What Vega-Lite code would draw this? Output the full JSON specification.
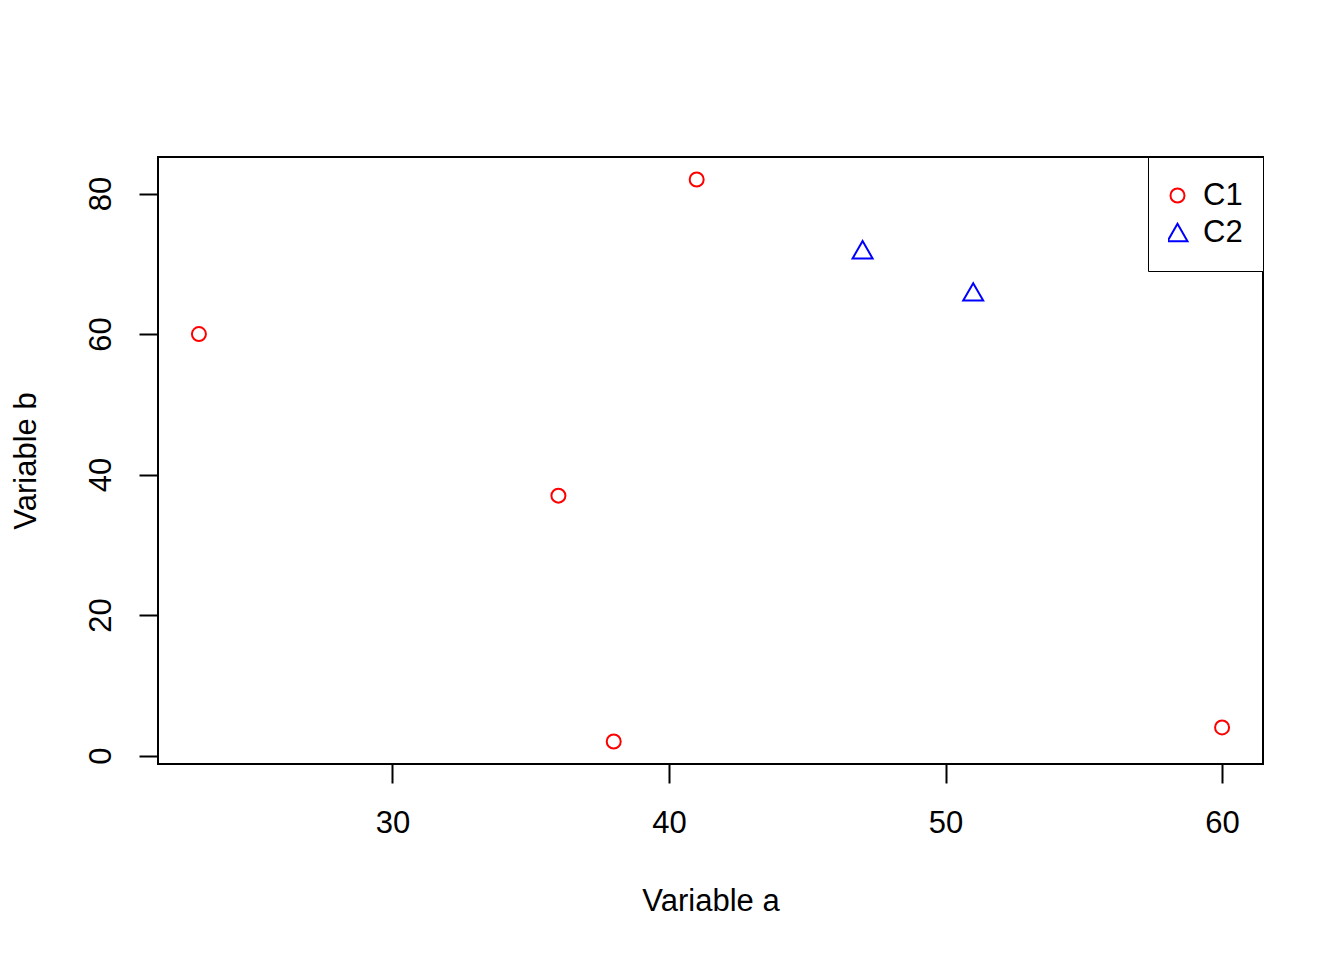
{
  "$schema": "https://vega.github.io/schema/vega-lite/v6.json",
  "width": 1105,
  "height": 607,
  "autosize": {"type": "none"},
  "padding": {"left": 158, "top": 157, "right": 81, "bottom": 196},
  "background": "white",
  "config": {
    "font": "Liberation Sans",
    "view": {"stroke": "black", "strokeWidth": 2},
    "axis": {
      "grid": false,
      "domain": false,
      "tickColor": "black",
      "tickWidth": 2,
      "tickSize": 19,
      "labelFont": "Liberation Sans",
      "labelFontSize": 31,
      "labelColor": "black",
      "titleFont": "Liberation Sans",
      "titleFontSize": 31,
      "titleFontWeight": "normal",
      "titleColor": "black"
    }
  },
  "data": {
    "values": [
      {"a": 23, "b": 60, "group": "C1"},
      {"a": 36, "b": 37, "group": "C1"},
      {"a": 38, "b": 2, "group": "C1"},
      {"a": 41, "b": 82, "group": "C1"},
      {"a": 60, "b": 4, "group": "C1"},
      {"a": 47, "b": 72, "group": "C2"},
      {"a": 51, "b": 66, "group": "C2"}
    ]
  },
  "mark": {"type": "point", "filled": false, "strokeWidth": 2, "opacity": 1},
  "encoding": {
    "x": {
      "field": "a",
      "type": "quantitative",
      "scale": {"domain": [21.52, 61.48], "nice": false, "zero": false},
      "axis": {
        "values": [30, 40, 50, 60],
        "title": "Variable a",
        "labelPadding": 25,
        "labelBaseline": "top",
        "titleBaseline": "alphabetic",
        "titleY": 146,
        "titleX": 552.5,
        "titleAlign": "center"
      }
    },
    "y": {
      "field": "b",
      "type": "quantitative",
      "scale": {"domain": [-1.2, 85.2], "nice": false, "zero": false},
      "axis": {
        "values": [0, 20, 40, 60, 80],
        "title": "Variable b",
        "labelAngle": -90,
        "labelAlign": "center",
        "labelBaseline": "alphabetic",
        "labelPadding": 29,
        "titleAngle": -90,
        "titleBaseline": "alphabetic",
        "titleAlign": "center",
        "titleX": -123,
        "titleY": 303.5
      }
    },
    "color": {
      "field": "group",
      "type": "nominal",
      "scale": {"domain": ["C1", "C2"], "range": ["#FF0000", "#0000FF"]},
      "legend": {
        "title": null,
        "orient": "top-right",
        "offset": 0,
        "strokeColor": "black",
        "fillColor": "white",
        "padding": 20,
        "labelFontSize": 31,
        "labelFont": "Liberation Sans",
        "labelColor": "black",
        "labelOffset": 10,
        "symbolOffset": -6,
        "rowPadding": 0,
        "clipHeight": 37,
        "symbolStrokeWidth": 2,
        "encode": {"legend": {"update": {"strokeWidth": {"value": 2}}}}
      }
    },
    "shape": {
      "field": "group",
      "type": "nominal",
      "scale": {"domain": ["C1", "C2"], "range": ["circle", "triangle-up"]}
    },
    "size": {
      "field": "group",
      "type": "nominal",
      "scale": {"domain": ["C1", "C2"], "range": [196, 400]}
    }
  }
}
